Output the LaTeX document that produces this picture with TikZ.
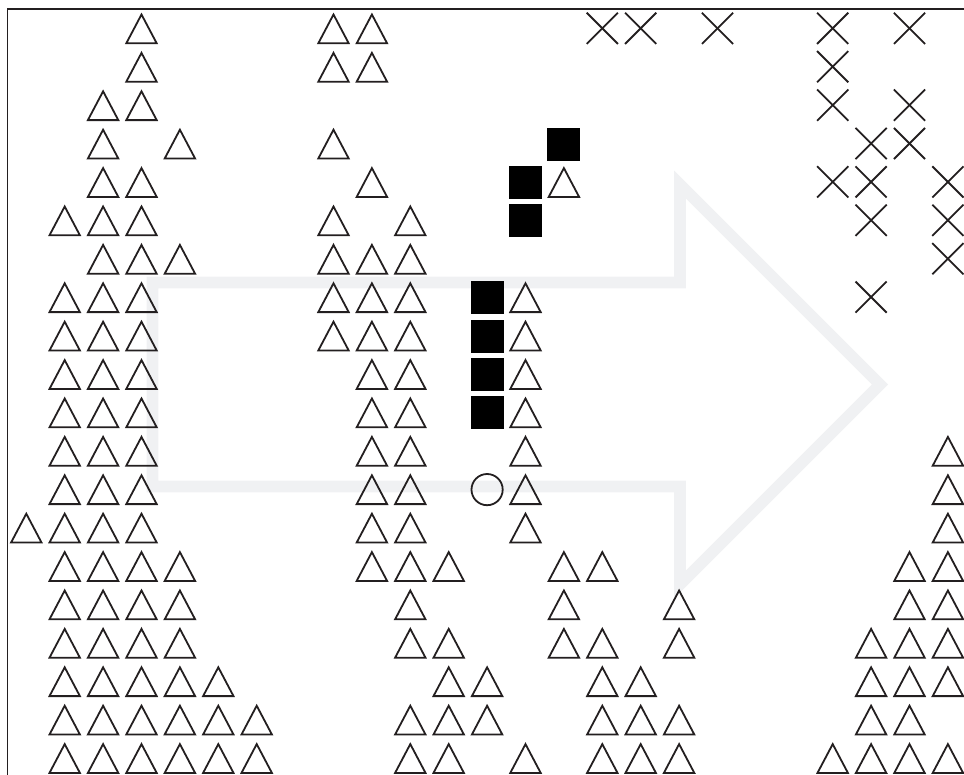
\documentclass[tikz,border=0pt]{standalone}
\definecolor{ink}{HTML}{231F20}
\definecolor{arrowgray}{RGB}{240,241,243}
\tikzset{
  symline/.style={draw=ink,line width=1.8pt,line join=miter},
  framline/.style={draw=ink,line width=1.9pt,line join=miter},
  bigarrow/.style={draw=arrowgray,line width=11.6pt,line join=miter},
  blacksq/.style={fill=black},
}
\newcommand{\cx}[1]{26.3+38.4*#1}
\newcommand{\cy}[1]{28.8+38.4*(#1-1)}
\begin{document}
\begin{tikzpicture}[x=1pt,y=-1pt]
\useasboundingbox (0,0) rectangle (964,774);
\clip (0,0) rectangle (964,774);
% background arrow
\draw[bigarrow] (152.5,282.5) -- (680,282.5) -- (680,184.5) -- (880,384.5)
  -- (680,584.5) -- (680,486.5) -- (152.5,486.5) -- cycle;
% frame
\draw[framline] (7.5,790) -- (7.5,9) -- (990,9);
% triangles
\foreach \r/\cols in {
  1/{3,8,9},
  2/{3,8,9},
  3/{2,3},
  4/{2,4,8},
  5/{2,3,9,14},
  6/{1,2,3,8,10},
  7/{2,3,4,8,9,10},
  8/{1,2,3,8,9,10,13},
  9/{1,2,3,8,9,10,13},
  10/{1,2,3,9,10,13},
  11/{1,2,3,9,10,13},
  12/{1,2,3,9,10,13,24},
  13/{1,2,3,9,10,13,24},
  14/{0,1,2,3,9,10,13,24},
  15/{1,2,3,4,9,10,11,14,15,23,24},
  16/{1,2,3,4,10,14,17,23,24},
  17/{1,2,3,4,10,11,14,15,17,22,23,24},
  18/{1,2,3,4,5,11,12,15,16,22,23,24},
  19/{1,2,3,4,5,6,10,11,12,15,16,17,22,23},
  20/{1,2,3,4,5,6,10,11,13,15,16,17,21,22,23,24}}{
  \foreach \c in \cols {
    \coordinate (t-\r-\c) at ({\cx{\c}},{\cy{\r}});
    \draw[symline] (t-\r-\c) ++(0,-14.3) -- ++(-15.2,28.8) -- ++(30.4,0) -- cycle;
  }
}
% crosses
\foreach \r/\cols in {
  1/{15,16,18,21,23},
  2/{21},
  3/{21,23},
  4/{22,23},
  5/{21,22,24},
  6/{22,24},
  7/{24},
  8/{22}}{
  \foreach \c in \cols {
    \coordinate (x-\r-\c) at ({\cx{\c}},{\cy{\r}-0.5});
    \draw[symline] (x-\r-\c) ++(-15.6,-15.6) -- ++(31.2,31.2);
    \draw[symline] (x-\r-\c) ++(-15.6,15.6) -- ++(31.2,-31.2);
  }
}
% black squares
\foreach \c/\r in {14/4,13/5,13/6,12/8,12/9,12/10,12/11}{
  \coordinate (s-\r-\c) at ({\cx{\c}},{\cy{\r}});
  \fill[blacksq] (s-\r-\c) ++(-16.5,-16.5) rectangle ++(33,33);
}
% circle
\coordinate (o-13-12) at ({\cx{12}},{\cy{13}});
\draw[symline] (o-13-12) circle[radius=15.6pt];
\end{tikzpicture}
\end{document}
